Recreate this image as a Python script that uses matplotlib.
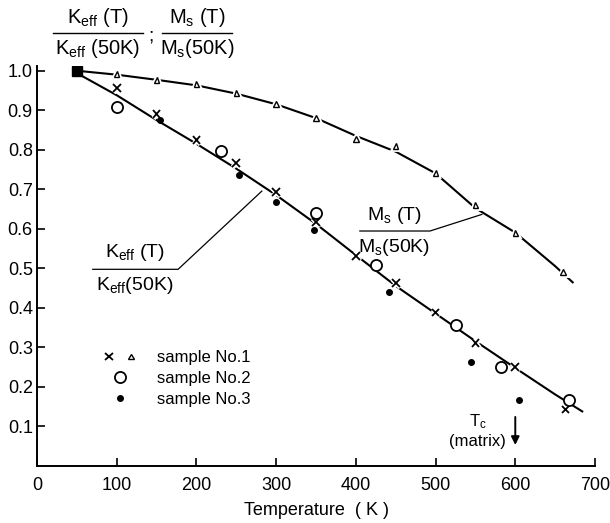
import matplotlib
matplotlib.use("Agg")
import matplotlib.pyplot as plt
import matplotlib.patheffects as pe
from matplotlib.legend_handler import HandlerTuple

plt.rcParams['font.family'] = ['Liberation Sans Narrow', 'Liberation Sans', 'DejaVu Sans']
plt.rcParams['mathtext.default'] = 'regular'

# ---- data ----
ref_T = [50]
ref_v = [1.0]

ms_T = [100, 150, 200, 250, 300, 350, 400, 450, 500, 550, 600, 660]
ms_v = [0.992, 0.977, 0.967, 0.944, 0.916, 0.880, 0.827, 0.810, 0.741, 0.660, 0.589, 0.490]

s1_T = [100, 150, 200, 250, 300, 350, 400, 450, 500, 550, 600, 663]
s1_v = [0.957, 0.891, 0.825, 0.766, 0.693, 0.617, 0.530, 0.462, 0.388, 0.310, 0.249, 0.142]

s2_T = [100, 231, 350, 425, 526, 582, 668]
s2_v = [0.909, 0.797, 0.640, 0.508, 0.355, 0.249, 0.165]

s3_T = [154, 253, 300, 348, 441, 545, 605]
s3_v = [0.876, 0.736, 0.668, 0.596, 0.439, 0.261, 0.165]

# drawn guide curves
keff_curve_T = [58, 100, 150, 200, 250, 300, 350, 400, 450, 500, 550, 600, 650, 684]
keff_curve_v = [0.985, 0.938, 0.875, 0.815, 0.752, 0.685, 0.612, 0.533, 0.455, 0.385, 0.315, 0.247, 0.180, 0.137]

ms_curve_T = [50, 100, 150, 200, 250, 300, 350, 400, 450, 500, 550, 600, 650, 672]
ms_curve_v = [1.0, 0.990, 0.977, 0.963, 0.942, 0.915, 0.880, 0.835, 0.795, 0.740, 0.652, 0.590, 0.505, 0.464]

x_ticks = [0, 100, 200, 300, 400, 500, 600, 700]
y_ticks = [0.1, 0.2, 0.3, 0.4, 0.5, 0.6, 0.7, 0.8, 0.9, 1.0]
y_ticklabels = ['0.1', '0.2', '0.3', '0.4', '0.5', '0.6', '0.7', '0.8', '0.9', '1.0']
legend_labels = ['sample No.1', 'sample No.2', 'sample No.3']

W, H = 610, 523
fig = plt.figure(figsize=(W / 100, H / 100), dpi=100)
ax = fig.add_axes([37 / W, 1 - 465.5 / H, (595 - 37) / W, (465.5 - 66) / H])

halo = [pe.withStroke(linewidth=3.5, foreground='white')]

ax.plot(keff_curve_T, keff_curve_v, color='black', lw=1.5, zorder=2)
ax.plot(ms_curve_T, ms_curve_v, color='black', lw=1.5, zorder=2)

h_tri, = ax.plot(ms_T, ms_v, ls='none', marker='^', ms=4, mfc='white', mec='black', mew=1.0,
                 zorder=3, path_effects=halo)
h_x, = ax.plot(s1_T, s1_v, ls='none', marker='x', ms=5.5, mec='black', mew=1.3,
               zorder=3, path_effects=halo)
h_o, = ax.plot(s2_T, s2_v, ls='none', marker='o', ms=8, mfc='white', mec='black', mew=1.3, zorder=3)
h_d, = ax.plot(s3_T, s3_v, ls='none', marker='o', ms=4, mfc='black', mec='black', zorder=4)
ax.plot(ref_T, ref_v, ls='none', marker='s', ms=6.5, mfc='black', mec='black', zorder=5)

# axes styling
ax.set_xlim(0, 700)
ax.set_ylim(0, 1.012)
for s in ['top', 'right']:
    ax.spines[s].set_visible(False)
for s in ['left', 'bottom']:
    ax.spines[s].set_linewidth(1.4)
ax.set_xticks(x_ticks)
ax.set_xticklabels([str(t) for t in x_ticks], fontsize=13)
ax.set_yticks(y_ticks)
ax.set_yticklabels(y_ticklabels, fontsize=13)
ax.tick_params(direction='in', length=6, width=1.2, pad=8)
ax.tick_params(axis='y', pad=3)
ax.set_xlabel('Temperature  ( K )', fontsize=13, labelpad=6)

# Keff label with leader
ax.plot([70, 177, 282], [0.497, 0.497, 0.695], color='black', lw=0.9)
ax.text(123, 0.512, r'K$_{eff}$ (T)', ha='center', va='bottom', fontsize=14)
ax.text(123, 0.482, r'K$_{eff}$(50K)', ha='center', va='top', fontsize=14)

# Ms label with leader
ax.plot([405, 493, 558], [0.594, 0.594, 0.636], color='black', lw=0.9)
ax.text(449, 0.607, r'M$_s$ (T)', ha='center', va='bottom', fontsize=14)
ax.text(448, 0.580, r'M$_s$(50K)', ha='center', va='top', fontsize=14)

# Tc arrow
ax.annotate('', xy=(600, 0.045), xytext=(600, 0.13),
            arrowprops=dict(arrowstyle='-|>', color='black', lw=1.4, mutation_scale=12))
ax.text(553, 0.110, r'T$_c$', ha='center', va='center', fontsize=12)
ax.text(553, 0.060, '(matrix)', ha='center', va='center', fontsize=12)

# top-left y label (two fractions)
def fx(px):
    return px / W

def fy(py):
    return 1 - py / H

fig.add_artist(plt.Line2D([fx(53), fx(143)], [fy(33), fy(33)], color='black', lw=1.0))
fig.add_artist(plt.Line2D([fx(162), fx(232)], [fy(33), fy(33)], color='black', lw=1.0))
fig.text(fx(98), fy(29), r'K$_{eff}$ (T)', ha='center', va='bottom', fontsize=14.5)
fig.text(fx(98), fy(37), r'K$_{eff}$ (50K)', ha='center', va='top', fontsize=14.5)
fig.text(fx(151), fy(36), ';', ha='center', va='center', fontsize=14)
fig.text(fx(197), fy(29), r'M$_s$ (T)', ha='center', va='bottom', fontsize=14.5)
fig.text(fx(197), fy(37), r'M$_s$(50K)', ha='center', va='top', fontsize=14.5)

# legend
leg = ax.legend([(h_x, h_tri), h_o, h_d], legend_labels,
                handler_map={tuple: HandlerTuple(ndivide=None, pad=0.6)},
                loc='upper left', bbox_to_anchor=(fx(95), fy(342)), bbox_transform=fig.transFigure,
                frameon=False, fontsize=12, handlelength=2.0, handletextpad=1.2,
                labelspacing=0.35, borderpad=0.0)

fig.savefig('out.png', dpi=100)
